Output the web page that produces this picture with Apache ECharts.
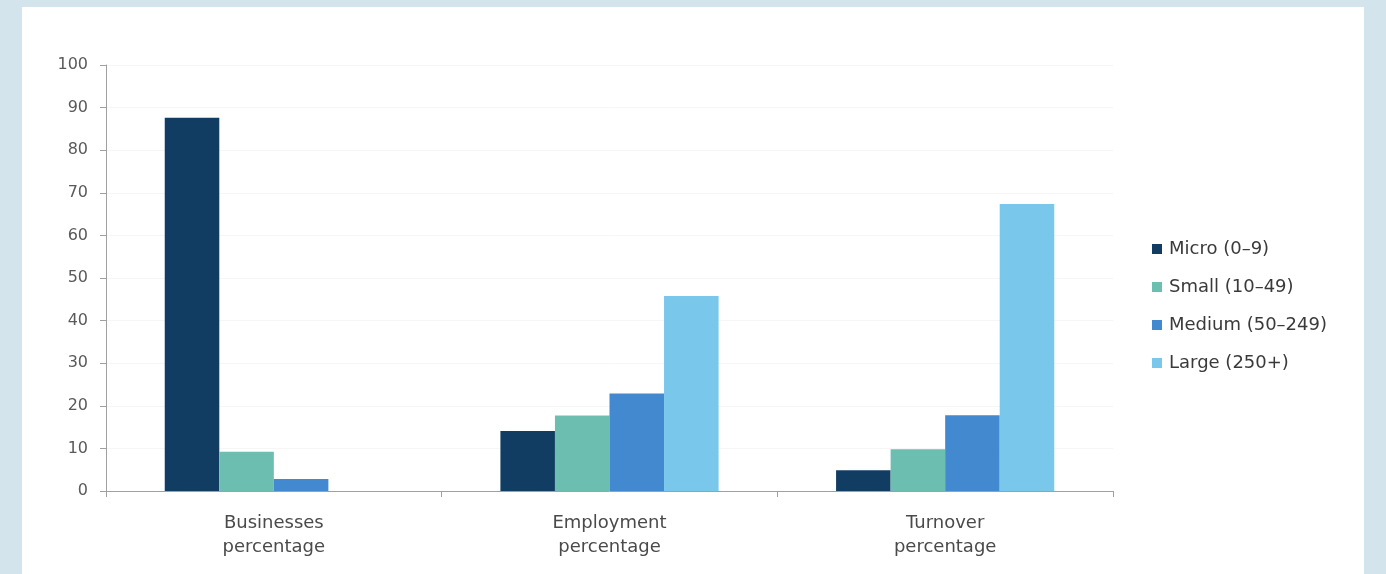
<!DOCTYPE html>
<html>
<head>
<meta charset="utf-8">
<script src="https://cdn.jsdelivr.net/npm/echarts@6/dist/echarts.min.js"></script>
<style>
  html, body { margin: 0; padding: 0; background: #d3e4ec; }
  #panel { position: absolute; left: 22px; top: 7px; width: 1342px; height: 567px; background: #ffffff; }
  #chart { position: absolute; left: 0; top: 0; width: 1386px; height: 574px; }
</style>
</head>
<body>
<div id="panel"></div>
<div id="chart"></div>
<script>
  // categories and series (percent)
  const categories = ["Businesses\npercentage", "Employment\npercentage", "Turnover\npercentage"];
  const seriesNames = ["Micro (0\u20139)", "Small (10\u201349)", "Medium (50\u2013249)", "Large (250+)"];
  const micro = [87.6, 14.1, 4.9];
  const small = [9.2, 17.7, 9.8];
  const medium = [2.8, 22.9, 17.8];
  const large = [0, 45.8, 67.4];
  const colors = ["#123d63", "#6cbfb0", "#4289d0", "#79c7eb"];

  const seriesData = [micro, small, medium, large];

  let chart = echarts.init(document.getElementById("chart"));
  chart.setOption({
    animation: false,
    color: colors,
    textStyle: { fontFamily: "DejaVu Sans" },
    grid: { left: 106, right: 273, top: 65, bottom: 83 },
    legend: {
      orient: "vertical",
      left: 1147,
      top: 235,
      icon: "rect",
      itemWidth: 10,
      itemHeight: 10,
      itemGap: 20,
      textStyle: { color: "#3a3a3a", fontSize: 18, padding: [0, 0, 0, 2] },
      data: seriesNames,
    },
    xAxis: {
      type: "category",
      data: categories,
      axisLine: { lineStyle: { color: "#a0a0a0" } },
      axisTick: { show: true, length: 6, lineStyle: { color: "#a0a0a0" } },
      axisLabel: { color: "#4a4a4a", fontSize: 18, lineHeight: 24, margin: 20 },
    },
    yAxis: {
      type: "value",
      min: 0,
      max: 100,
      interval: 10,
      axisLine: { show: true, lineStyle: { color: "#a0a0a0" } },
      axisTick: { show: true, length: 6, lineStyle: { color: "#a0a0a0" } },
      axisLabel: { color: "#5a5a5a", fontSize: 16, margin: 18 },
      splitLine: { lineStyle: { color: "#f6f6f6" } },
    },
    series: seriesNames.map((name, i) => ({
      name: name,
      type: "bar",
      data: seriesData[i],
      barGap: "0%",
      barCategoryGap: "35%",
    })),
  });
</script>
</body>
</html>
